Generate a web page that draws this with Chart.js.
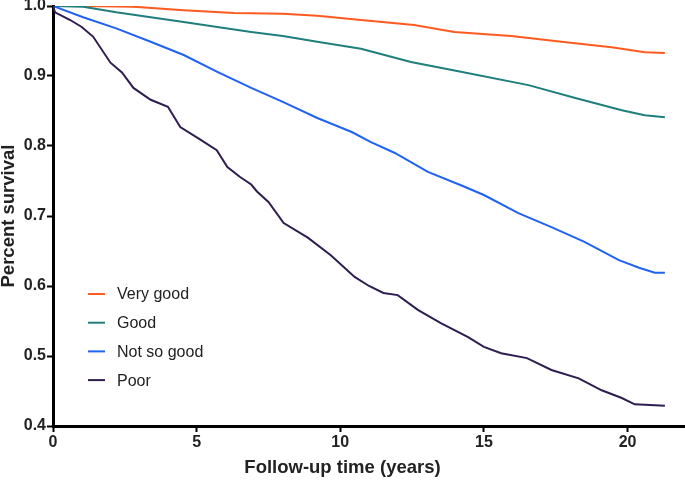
<!DOCTYPE html>
<html>
<head>
<meta charset="utf-8">
<script src="https://cdn.jsdelivr.net/npm/chart.js@4"></script>
<style>
  html, body { margin: 0; padding: 0; background: #fff; }
  #wrap { width: 685px; height: 481px; }
</style>
</head>
<body>
<div id="wrap"><canvas id="myChart" width="685" height="481"></canvas></div>
<script>
// survival curves (time in years, survival fraction)
const seriesNames = ["Very good", "Good", "Not so good", "Poor"];

const veryGoodTime = [0, 1.0, 2.8, 4.55, 6.3, 8.0, 9.2, 10.72, 12.57, 13.97, 15.95, 17.7, 19.44, 20.6, 21.3];
const veryGoodSurv = [1.0, 1.0, 0.999, 0.994, 0.990, 0.989, 0.986, 0.980, 0.973, 0.963, 0.957, 0.949, 0.941, 0.934, 0.933];

const goodTime = [0, 1.05, 2.2, 3.4, 4.55, 5.72, 6.9, 8.0, 9.2, 10.72, 12.46, 14.2, 16.55, 18.15, 19.8, 20.6, 21.3];
const goodSurv = [1.0, 0.999, 0.991, 0.984, 0.977, 0.970, 0.963, 0.957, 0.949, 0.939, 0.920, 0.906, 0.887, 0.869, 0.851, 0.844, 0.841];

const notSoGoodTime = [0, 1.05, 2.2, 3.4, 4.55, 5.72, 6.9, 8.0, 9.2, 10.4, 11.05, 11.9, 13.05, 14.2, 15.0, 16.2, 17.35, 18.5, 19.7, 20.4, 20.95, 21.3];
const notSoGoodSurv = [1.0, 0.984, 0.968, 0.949, 0.930, 0.906, 0.883, 0.863, 0.840, 0.820, 0.806, 0.790, 0.763, 0.744, 0.730, 0.704, 0.684, 0.663, 0.637, 0.626, 0.619, 0.619];

const poorTime = [0, 0.07, 0.6, 1.0, 1.4, 2.0, 2.4, 2.8, 3.4, 4.0, 4.43, 5.13, 5.7, 6.07, 6.5, 6.9, 7.1, 7.5, 8.03, 8.87, 9.67, 10.5, 11.0, 11.5, 12.0, 12.7, 13.5, 14.45, 15.0, 15.6, 16.5, 17.35, 18.3, 19.1, 19.8, 20.25, 21.3];
const poorSurv = [1.0, 0.991, 0.980, 0.970, 0.956, 0.919, 0.905, 0.883, 0.866, 0.856, 0.827, 0.809, 0.794, 0.770, 0.756, 0.745, 0.735, 0.720, 0.690, 0.669, 0.644, 0.613, 0.600, 0.590, 0.587, 0.566, 0.547, 0.527, 0.513, 0.504, 0.497, 0.480, 0.468, 0.451, 0.440, 0.431, 0.429];

const xTicks = [0, 5, 10, 15, 20];
const yTicks = [0.4, 0.5, 0.6, 0.7, 0.8, 0.9, 1.0];

const colors = ["#ff5a1f", "#1f7f7c", "#1f62f5", "#2e1d50"];

function points(ts, ss) {
  return ts.map((t, i) => ({ x: t, y: ss[i] }));
}

const allTimes = [veryGoodTime, goodTime, notSoGoodTime, poorTime];
const allSurv = [veryGoodSurv, goodSurv, notSoGoodSurv, poorSurv];

const datasets = seriesNames.map((name, i) => ({
  label: name,
  data: points(allTimes[i], allSurv[i]),
  borderColor: colors[i],
  backgroundColor: colors[i],
  borderWidth: 2,
  pointRadius: 0,
  tension: 0,
  fill: false,
  order: 4 - i,
}));

const fontFamily = "Arial, 'Liberation Sans', Helvetica, sans-serif";

// legend drawn inside the plot, lower left
const insideLegend = {
  id: "insideLegend",
  afterDraw(chart) {
    const ctx = chart.ctx;
    const left = chart.chartArea.left + 35;
    const top = 294;
    ctx.save();
    ctx.font = "16px " + fontFamily;
    ctx.textBaseline = "middle";
    chart.data.datasets.forEach((ds, i) => {
      const y = top + i * 28.7;
      ctx.strokeStyle = ds.borderColor;
      ctx.lineWidth = 2;
      ctx.beginPath();
      ctx.moveTo(left, y);
      ctx.lineTo(left + 17, y);
      ctx.stroke();
      ctx.fillStyle = "#222";
      ctx.fillText(ds.label, left + 29, y + 1);
    });
    ctx.restore();
  },
};

const tickFont = { family: fontFamily, size: 16, weight: "bold" };
const titleFont = { family: fontFamily, size: 18.5, weight: "bold", lineHeight: 1.2 };

new Chart(document.getElementById("myChart"), {
  type: "line",
  data: { datasets: datasets },
  plugins: [insideLegend],
  options: {
    responsive: false,
    animation: false,
    layout: { padding: { top: 6, right: 0, left: 0, bottom: 0 } },
    plugins: {
      legend: { display: false },
      tooltip: { enabled: false },
      // x axis title, centred on the whole figure as in the original
      title: {
        display: true,
        position: "bottom",
        text: "Follow-up time (years)",
        color: "#222",
        font: titleFont,
        padding: { top: 2, bottom: 2 },
      },
    },
    scales: {
      x: {
        type: "linear",
        min: 0,
        max: 22,
        afterBuildTicks: (scale) => {
          scale.ticks = xTicks.map((v) => ({ value: v }));
        },
        afterFit: (scale) => {
          scale.height = 28.8;
          scale.paddingLeft = 0;
          scale.paddingRight = 0;
        },
        border: { color: "#000", width: 3 },
        grid: { drawOnChartArea: false, tickLength: 6, tickWidth: 2, tickColor: "#000" },
        ticks: { color: "#222", font: tickFont, padding: 1, maxRotation: 0 },
      },
      y: {
        min: 0.4,
        max: 1.0,
        afterBuildTicks: (scale) => {
          scale.ticks = yTicks.map((v) => ({ value: v }));
        },
        afterFit: (scale) => {
          scale.width = 53;
          scale.paddingTop = 0;
          scale.paddingBottom = 0;
        },
        border: { color: "#000", width: 3 },
        grid: { drawOnChartArea: false, tickLength: 6, tickWidth: 2, tickColor: "#000" },
        ticks: {
          color: "#222",
          font: tickFont,
          padding: 1,
          callback: (v) => Number(v).toFixed(1),
        },
        title: {
          display: true,
          text: "Percent survival",
          color: "#222",
          font: { family: fontFamily, size: 18.5, weight: "bold", lineHeight: 1.0 },
          padding: { top: 0, bottom: 0 },
        },
      },
    },
  },
});
</script>
</body>
</html>
